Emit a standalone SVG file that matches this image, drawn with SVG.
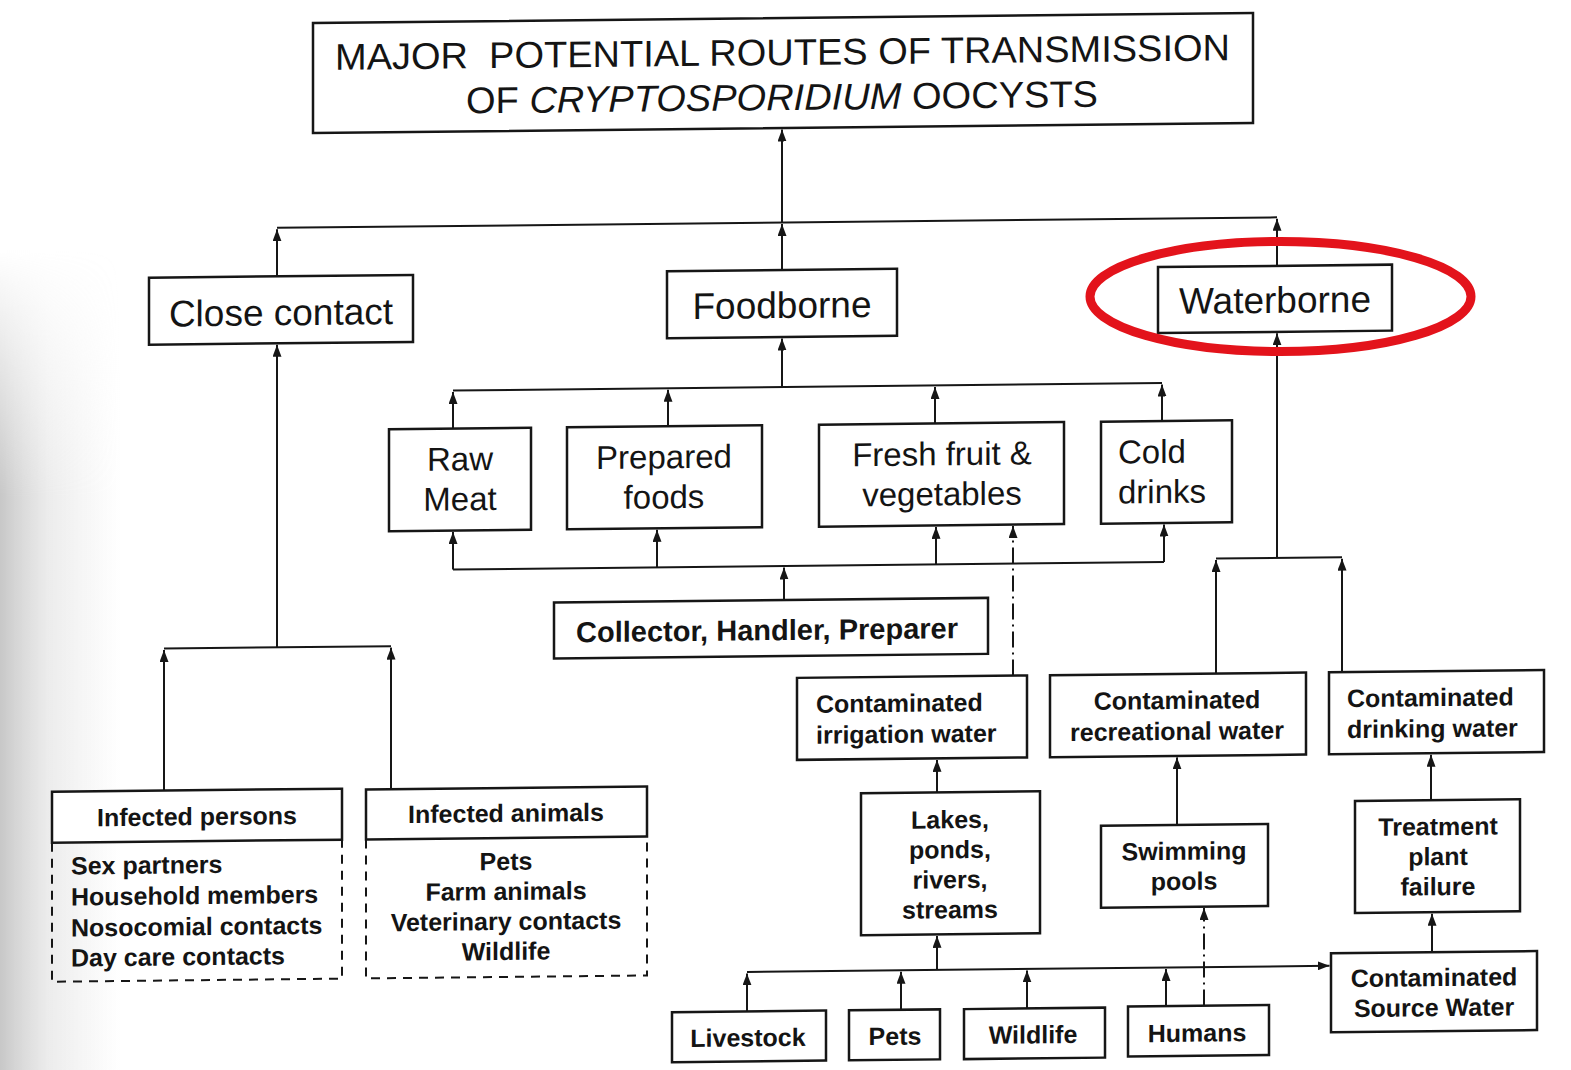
<svg xmlns="http://www.w3.org/2000/svg" width="1571" height="1070" viewBox="0 0 1571 1070">
<defs>
<style>
.box{fill:#fff;stroke:#161616;stroke-width:2.5}
.dbox{fill:none;stroke:#161616;stroke-width:2;stroke-dasharray:9 7}
.ln{fill:none;stroke:#161616;stroke-width:2}
.dd{stroke-dasharray:16 5 2 5}
.t{font-family:"Liberation Sans",Arial,sans-serif;fill:#141414}
.big{font-size:37px}
.mid{font-size:33px}
.sm{font-size:25px;font-weight:bold}
.c{text-anchor:middle}
</style>
<marker id="ah" viewBox="0 0 12 9" refX="12" refY="4.5" markerWidth="12" markerHeight="9" markerUnits="userSpaceOnUse" orient="auto">
<path d="M0,0 L12,4.5 L0,9 z" fill="#161616"/>
</marker>
<linearGradient id="stip" x1="0" y1="0" x2="1" y2="0">
<stop offset="0" stop-color="#b5b5b5" stop-opacity="0.75"/>
<stop offset="0.4" stop-color="#c8c8c8" stop-opacity="0.35"/>
<stop offset="1" stop-color="#d0d0d0" stop-opacity="0"/>
</linearGradient>
<linearGradient id="vfade" x1="0" y1="0" x2="0" y2="1">
<stop offset="0" stop-color="#fff" stop-opacity="0"/>
<stop offset="0.3" stop-color="#fff" stop-opacity="1"/>
<stop offset="1" stop-color="#fff" stop-opacity="1"/>
</linearGradient>
<mask id="m1" maskUnits="userSpaceOnUse" x="0" y="0" width="200" height="1070">
<rect x="0" y="250" width="200" height="820" fill="url(#vfade)"/>
</mask>
</defs>
<rect width="1571" height="1070" fill="#fff"/>
<rect x="0" y="250" width="120" height="820" fill="url(#stip)" mask="url(#m1)"/>
<g transform="matrix(1 -0.0105 0 1 0 8.24)">
<g id="connectors">
<path class="ln" d="M277,222.5 H1277"/>
<path class="ln" d="M277,271 V224" marker-end="url(#ah)"/>
<path class="ln" d="M782,270 V224" marker-end="url(#ah)"/>
<path class="ln" d="M1277,271 V224" marker-end="url(#ah)"/>
<path class="ln" d="M782,222.5 V129.5" marker-end="url(#ah)"/>
<path class="ln" d="M782,387 V338.5" marker-end="url(#ah)"/>
<path class="ln" d="M453,387 H1162"/>
<path class="ln" d="M453,425 V388.5" marker-end="url(#ah)"/>
<path class="ln" d="M668,425 V388.5" marker-end="url(#ah)"/>
<path class="ln" d="M935,425 V388.5" marker-end="url(#ah)"/>
<path class="ln" d="M1162,425 V388.5" marker-end="url(#ah)"/>
<path class="ln" d="M453,566 H1164"/>
<path class="ln" d="M453,566 V528.5" marker-end="url(#ah)"/>
<path class="ln" d="M657,566 V528.5" marker-end="url(#ah)"/>
<path class="ln" d="M936,566 V528.5" marker-end="url(#ah)"/>
<path class="ln" d="M1164,566 V528.5" marker-end="url(#ah)"/>
<path class="ln" d="M784,600 V567.5" marker-end="url(#ah)"/>
<path class="ln dd" d="M1013,678 V528.5" marker-end="url(#ah)"/>
<path class="ln" d="M1277,563 V338.5" marker-end="url(#ah)"/>
<path class="ln" d="M1216,563 H1342"/>
<path class="ln" d="M1216,678 V564.5" marker-end="url(#ah)"/>
<path class="ln" d="M1342,678 V564.5" marker-end="url(#ah)"/>
<path class="ln" d="M937,794 V761.5" marker-end="url(#ah)"/>
<path class="ln" d="M1177,829 V761.5" marker-end="url(#ah)"/>
<path class="ln" d="M1431,807 V761.5" marker-end="url(#ah)"/>
<path class="ln" d="M1432,959 V920.5" marker-end="url(#ah)"/>
<path class="ln" d="M937,971.5 V937.5" marker-end="url(#ah)"/>
<path class="ln" d="M747,971.5 H1329.5" marker-end="url(#ah)"/>
<path class="ln" d="M747,1011 V973" marker-end="url(#ah)"/>
<path class="ln" d="M901,1011 V973" marker-end="url(#ah)"/>
<path class="ln" d="M1027,1011 V973" marker-end="url(#ah)"/>
<path class="ln" d="M1166,1010 V973" marker-end="url(#ah)"/>
<path class="ln dd" d="M1204,1010 V912.5" marker-end="url(#ah)"/>
<path class="ln" d="M277,642 V339.5" marker-end="url(#ah)"/>
<path class="ln" d="M164,642 H391"/>
<path class="ln" d="M164,784 V643.5" marker-end="url(#ah)"/>
<path class="ln" d="M391,785 V643.5" marker-end="url(#ah)"/>
</g>
<g id="title">
<rect class="box" x="313" y="18" width="940" height="110"/>
<text class="t big c" x="782.5" y="65" textLength="895" lengthAdjust="spacingAndGlyphs">MAJOR&#160; POTENTIAL ROUTES OF TRANSMISSION</text>
<text class="t big c" x="782" y="110" textLength="632" lengthAdjust="spacingAndGlyphs">OF <tspan font-style="italic">CRYPTOSPORIDIUM</tspan> OOCYSTS</text>
</g>
<g id="close-contact">
<rect class="box" x="149" y="271" width="264" height="67"/>
<text class="t big c" x="281" y="320">Close contact</text>
</g>
<g id="foodborne">
<rect class="box" x="667" y="270" width="230" height="67"/>
<text class="t big c" x="782" y="318">Foodborne</text>
</g>
<g id="waterborne">
<rect class="box" x="1158" y="271" width="234" height="66"/>
<text class="t big c" x="1275" y="318">Waterborne</text>
</g>
<g id="raw-meat">
<rect class="box" x="389" y="425" width="142" height="102"/>
<text class="t mid c" x="460" y="467">Raw<tspan x="460" y="507">Meat</tspan></text>
</g>
<g id="prepared-foods">
<rect class="box" x="567" y="425" width="195" height="102"/>
<text class="t mid c" x="664" y="467">Prepared<tspan x="664" y="507">foods</tspan></text>
</g>
<g id="fresh-fruit">
<rect class="box" x="819" y="425" width="245" height="102"/>
<text class="t mid c" x="942" y="467">Fresh fruit &amp;<tspan x="942" y="507">vegetables</tspan></text>
</g>
<g id="cold-drinks">
<rect class="box" x="1101" y="425" width="131" height="102"/>
<text class="t mid" x="1118" y="467">Cold<tspan x="1118" y="507">drinks</tspan></text>
</g>
<g id="collector">
<rect class="box" x="554" y="600" width="434" height="56"/>
<text class="t" x="576" y="640" font-size="29" font-weight="bold">Collector, Handler, Preparer</text>
</g>
<g id="irrigation-water">
<rect class="box" x="797" y="678" width="230" height="82"/>
<text class="t sm" x="816" y="713">Contaminated<tspan x="816" y="744">irrigation water</tspan></text>
</g>
<g id="recreational-water">
<rect class="box" x="1050" y="678" width="256" height="82"/>
<text class="t sm c" x="1177" y="713">Contaminated<tspan x="1177" y="744">recreational water</tspan></text>
</g>
<g id="drinking-water">
<rect class="box" x="1329" y="678" width="215" height="82"/>
<text class="t sm" x="1347" y="713">Contaminated<tspan x="1347" y="744">drinking water</tspan></text>
</g>
<g id="lakes">
<rect class="box" x="861" y="794" width="179" height="142"/>
<text class="t sm c" x="950" y="830">Lakes,<tspan x="950" y="860">ponds,</tspan><tspan x="950" y="890">rivers,</tspan><tspan x="950" y="920">streams</tspan></text>
</g>
<g id="swimming-pools">
<rect class="box" x="1101" y="829" width="167" height="82"/>
<text class="t sm c" x="1184" y="864">Swimming<tspan x="1184" y="894">pools</tspan></text>
</g>
<g id="treatment-failure">
<rect class="box" x="1355" y="807" width="165" height="112"/>
<text class="t sm c" x="1438" y="842">Treatment<tspan x="1438" y="872">plant</tspan><tspan x="1438" y="902">failure</tspan></text>
</g>
<g id="source-water">
<rect class="box" x="1331" y="959" width="206" height="79"/>
<text class="t sm c" x="1434" y="993">Contaminated<tspan x="1434" y="1023">Source Water</tspan></text>
</g>
<g id="livestock">
<rect class="box" x="672" y="1011" width="154" height="50"/>
<text class="t sm c" x="748" y="1046">Livestock</text>
</g>
<g id="pets">
<rect class="box" x="849" y="1011" width="91" height="50"/>
<text class="t sm c" x="895" y="1046">Pets</text>
</g>
<g id="wildlife">
<rect class="box" x="964" y="1011" width="141" height="50"/>
<text class="t sm c" x="1033" y="1046">Wildlife</text>
</g>
<g id="humans">
<rect class="box" x="1128" y="1010" width="141" height="50"/>
<text class="t sm c" x="1197" y="1046">Humans</text>
</g>
<g id="infected-persons">
<rect class="box" x="52" y="784" width="290" height="51"/>
<text class="t sm c" x="197" y="819">Infected persons</text>
<path class="dbox" d="M52,835 V974 H342 V835"/>
<text class="t sm" x="71" y="867">Sex partners<tspan x="71" y="898">Household members</tspan><tspan x="71" y="929">Nosocomial contacts</tspan><tspan x="71" y="959">Day care contacts</tspan></text>
</g>
<g id="infected-animals">
<rect class="box" x="366" y="785" width="281" height="50"/>
<text class="t sm c" x="506" y="819">Infected animals</text>
<path class="dbox" d="M366,835 V974 H647 V835"/>
<text class="t sm c" x="506" y="867">Pets<tspan x="506" y="897">Farm animals</tspan><tspan x="506" y="927">Veterinary contacts</tspan><tspan x="506" y="957">Wildlife</tspan></text>
</g>
</g>
<ellipse id="highlight" cx="1280.5" cy="296.5" rx="190.5" ry="55" fill="none" stroke="#e3131b" stroke-width="9"/>
</svg>
